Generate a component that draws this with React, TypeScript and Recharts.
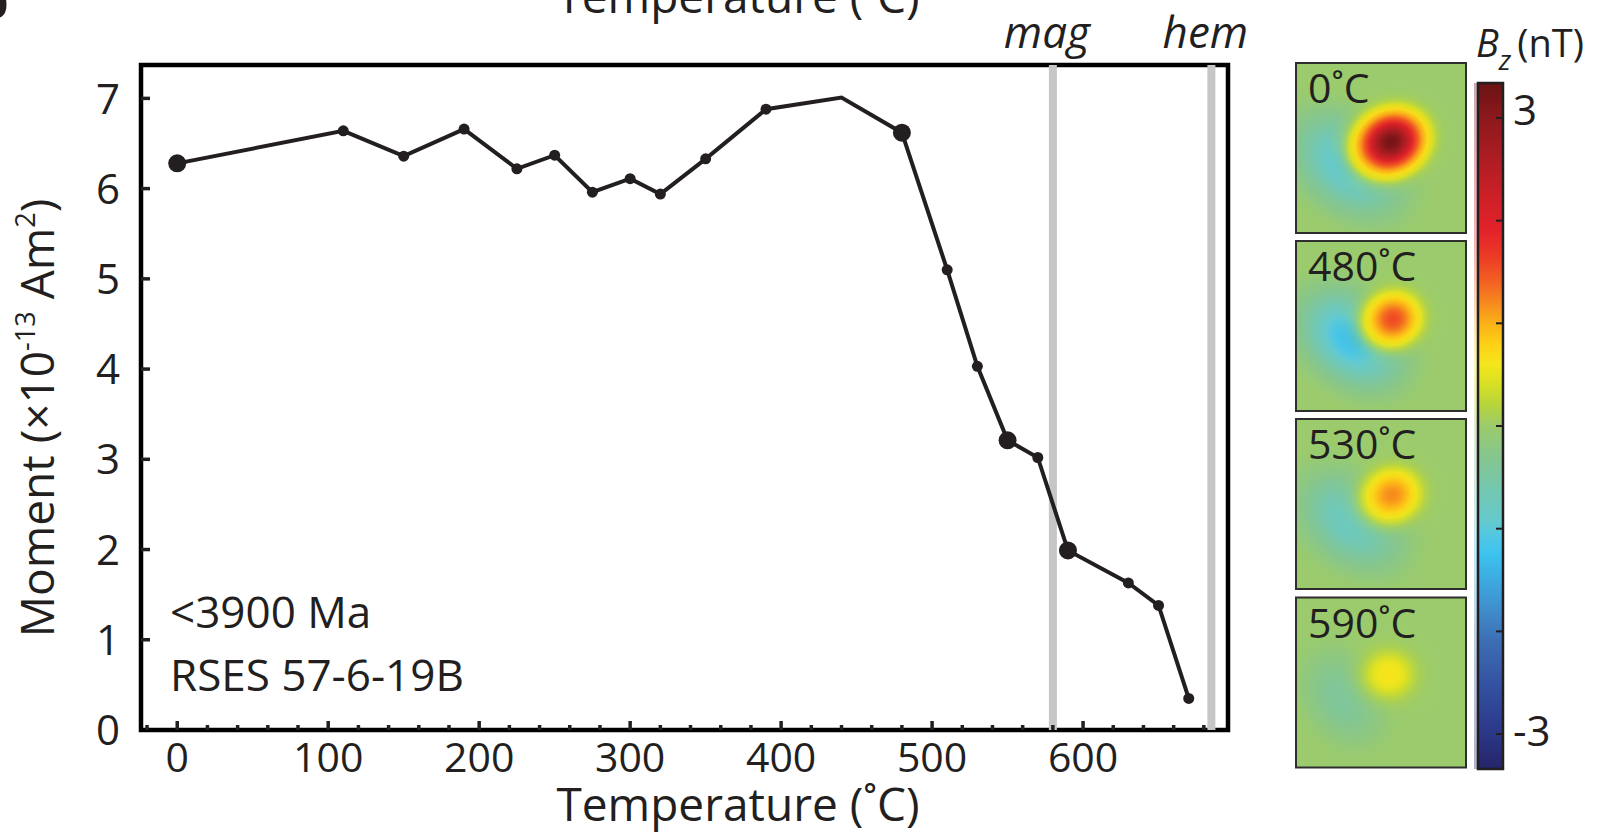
import React from 'react';
import { LineChart, Line, XAxis, YAxis, ReferenceLine, ReferenceArea } from 'recharts';

// ---------- data ----------
const temperatures = [0, 110, 150, 190, 225, 250, 275, 300, 320, 350, 390, 440, 480, 510, 530, 550, 570, 590, 630, 650, 670];
const moments = [6.28, 6.64, 6.36, 6.66, 6.22, 6.37, 5.96, 6.11, 5.94, 6.33, 6.88, 7.01, 6.62, 5.1, 4.03, 3.21, 3.02, 1.99, 1.63, 1.38, 0.35];
const imagedSteps = [0, 480, 550, 590];
const unmarkedSteps = [440];
const xTicks = [-20, 0, 20, 40, 60, 80, 100, 120, 140, 160, 180, 200, 220, 240, 260, 280, 300, 320, 340, 360, 380, 400, 420, 440, 460, 480, 500, 520, 540, 560, 580, 600, 620, 640, 660, 680];
const xLabelTicks = [0, 100, 200, 300, 400, 500, 600];
const yTicks = [0, 1, 2, 3, 4, 5, 6, 7];
const curieLines = [
  { t: 580, name: 'mag' },
  { t: 685, name: 'hem' },
];
const mapLabels = ['0˚C', '480˚C', '530˚C', '590˚C'];
const colorbarTicks = [3, 2, 1, 0, -1, -2, -3];
const colorbarLabelValues = [3, -3];
const xDomain: [number, number] = [-24, 696];
const yDomain: [number, number] = [0, 7.37];

const data = temperatures.map((t, i) => ({ t, m: moments[i] }));

// ---------- style ----------
const FONT = '"Open Sans", sans-serif';
const INK = '#231f20';
const W = 1601;
const H = 834;
const PL = 141;
const PT = 65;
const PR = 1228;
const PB = 730;

// colormap (value -> colour), descending
const cmapStops: [number, string][] = [
  [3.34, '#6b1214'], [3.0, '#8c191c'], [2.6, '#ad1d23'], [2.2, '#cf2027'], [1.9, '#e3222a'],
  [1.65, '#ec3b25'], [1.4, '#f26122'], [1.2, '#f6891e'], [1.0, '#fbb018'], [0.8, '#fdd016'],
  [0.6, '#f5e61c'], [0.4, '#d6df25'], [0.2, '#b6d43c'], [0, '#9bcb6c'], [-0.3, '#86c68e'],
  [-0.6, '#74c7ae'], [-0.9, '#66cacb'], [-1.1, '#4fc6e6'], [-1.25, '#3cc3ef'], [-1.5, '#3daae0'],
  [-1.8, '#3f8ccb'], [-2.1, '#3d6eb4'], [-2.5, '#3453a2'], [-2.9, '#2d3c8e'], [-3.34, '#25246a'],
];
const CB_MAX = 3.34;
const CB_MIN = -3.34;

function hexToRgb(h: string) {
  return [parseInt(h.slice(1, 3), 16), parseInt(h.slice(3, 5), 16), parseInt(h.slice(5, 7), 16)];
}
function cmap(v: number) {
  const vv = Math.max(CB_MIN, Math.min(CB_MAX, v));
  for (let i = 0; i < cmapStops.length - 1; i++) {
    const [a, ca] = cmapStops[i];
    const [b, cb] = cmapStops[i + 1];
    if (vv <= a && vv >= b) {
      const f = (a - vv) / (a - b);
      const A = hexToRgb(ca);
      const B = hexToRgb(cb);
      const c = A.map((x, k) => Math.round(x + (B[k] - x) * f));
      return `rgb(${c[0]},${c[1]},${c[2]})`;
    }
  }
  return cmapStops[cmapStops.length - 1][1];
}

// map panel look (image-like decoration)
const panelX = 1296;
const panelTops = [63, 241, 419, 597.5];
const panelSize = 170;
const mapLobes = [
  [
    { cx: 52, cy: 102, rx: 95, ry: 66, rot: 40, peak: -1.05, fall: 3.2 },
    { cx: 95, cy: 79, rx: 64, ry: 55, rot: -25, peak: 3.25, fall: 4.5 },
  ],
  [
    { cx: 56, cy: 98, rx: 88, ry: 64, rot: 40, peak: -1.3, fall: 3.2 },
    { cx: 97, cy: 78, rx: 56, ry: 52, rot: -20, peak: 1.55, fall: 4.5 },
  ],
  [
    { cx: 56, cy: 102, rx: 92, ry: 66, rot: 40, peak: -0.85, fall: 3.2 },
    { cx: 96, cy: 76, rx: 60, ry: 54, rot: -20, peak: 1.2, fall: 4.5 },
  ],
  [
    { cx: 48, cy: 100, rx: 84, ry: 62, rot: 60, peak: -0.45, fall: 3.2 },
    { cx: 93, cy: 77, rx: 62, ry: 58, rot: 0, peak: 0.64, fall: 4.5 },
  ],
];

const cbX = 1478;
const cbTop = 83;
const cbBottom = 769;
const cbW = 25;
const cbY = (v: number) => cbTop + ((CB_MAX - v) / (CB_MAX - CB_MIN)) * (cbBottom - cbTop);

// ---------- axis ticks ----------
const XTick = (props: any) => {
  const { x, payload } = props;
  const v = payload.value;
  const major = xLabelTicks.includes(v);
  return (
    <g>
      <line x1={x} x2={x} y1={PB} y2={PB - (major ? 9 : 5)} stroke={INK} strokeWidth={3.5} />
      {major && (
        <text x={x} y={PB + 42} textAnchor="middle" fontSize={41} fill={INK} fontFamily={FONT}>
          {v}
        </text>
      )}
    </g>
  );
};

const YTick = (props: any) => {
  const { y, payload } = props;
  const v = payload.value;
  return (
    <g>
      {v !== 0 && <line x1={PL} x2={PL + 9} y1={y} y2={y} stroke={INK} strokeWidth={3.5} />}
      <text x={PL - 21} y={y} dy="0.36em" textAnchor="end" fontSize={42} fill={INK} fontFamily={FONT}>
        {v}
      </text>
    </g>
  );
};

const renderDot = (props: any) => {
  const { cx, cy, payload, index } = props;
  if (unmarkedSteps.includes(payload.t)) return <g key={`d${index}`} />;
  const big = imagedSteps.includes(payload.t);
  return <circle key={`d${index}`} cx={cx} cy={cy} r={big ? 9 : 5.5} fill={INK} stroke="none" />;
};

const curieLabel = (name: string) => (props: any) => {
  const vb = props.viewBox || {};
  return (
    <text
      x={vb.x - 6}
      y={vb.y - 17}
      textAnchor="middle"
      fontSize={44}
      fontStyle="italic"
      fill={INK}
      fontFamily={FONT}
    >
      {name}
    </text>
  );
};

export default function App() {
  return (
    <div
      style={{
        position: 'absolute',
        left: 0,
        top: 0,
        width: W,
        height: H,
        background: '#fff',
        overflow: 'hidden',
      }}
    >
      <div style={{ position: 'absolute', left: 0, top: 0 }}>
        <LineChart
          width={W}
          height={H}
          data={data}
          margin={{ top: PT, right: W - PR, bottom: H - PB - 1, left: PL - 1 }}
        >
          <XAxis
            dataKey="t"
            type="number"
            domain={xDomain}
            allowDataOverflow
            ticks={xTicks}
            interval={0}
            height={1}
            tickSize={0}
            tickMargin={0}
            axisLine={false}
            tickLine={false}
            tick={XTick}
          />
          <YAxis
            type="number"
            domain={yDomain}
            allowDataOverflow
            ticks={yTicks}
            interval={0}
            width={1}
            tickSize={0}
            tickMargin={0}
            axisLine={false}
            tickLine={false}
            tick={YTick}
          />
          {curieLines.map((c) => (
            <ReferenceLine
              key={c.name}
              x={c.t}
              stroke="#c6c6c6"
              strokeWidth={8}
              label={curieLabel(c.name)}
            />
          ))}
          <Line
            type="linear"
            dataKey="m"
            stroke={INK}
            strokeWidth={4}
            dot={renderDot}
            activeDot={false}
            isAnimationActive={false}
          />
          <ReferenceArea
            x1={xDomain[0]}
            x2={xDomain[1]}
            y1={yDomain[0]}
            y2={yDomain[1]}
            fill="none"
            fillOpacity={0}
            stroke="#000"
            strokeWidth={4.5}
          />
        </LineChart>
      </div>

      <svg
        width={W}
        height={H}
        style={{ position: 'absolute', left: 0, top: 0, pointerEvents: 'none' }}
      >
        <defs>
          <linearGradient id="cbGrad" x1="0" y1="0" x2="0" y2="1">
            {cmapStops.map(([v, c], i) => (
              <stop key={i} offset={(CB_MAX - v) / (CB_MAX - CB_MIN)} stopColor={c} />
            ))}
          </linearGradient>
          {mapLobes.map((lobes, pi) =>
            lobes.map((lb, li) => (
              <radialGradient key={`g${pi}-${li}`} id={`lobe${pi}-${li}`} cx="0.5" cy="0.5" r="0.5">
                {Array.from({ length: 13 }, (_, k) => {
                  const s = k / 12;
                  const v = lb.peak * Math.exp(-lb.fall * s * s);
                  const thr = lb.peak > 0 ? 0.45 : 0.15;
                  const op = Math.max(0, Math.min(1, Math.abs(v) / thr));
                  return <stop key={k} offset={s} stopColor={cmap(v)} stopOpacity={op} />;
                })}
              </radialGradient>
            ))
          )}
          {panelTops.map((top, pi) => (
            <clipPath key={`c${pi}`} id={`clip${pi}`}>
              <rect x={panelX} y={top} width={panelSize} height={panelSize} />
            </clipPath>
          ))}
        </defs>

        {/* cut-off panel letter and title of the panel above */}
        <text x={-22} y={18} fontSize={50} fontWeight="bold" fill={INK} fontFamily='"Liberation Sans", sans-serif'>
          b
        </text>
        <text x={738} y={13} textAnchor="middle" fontSize={46} fill={INK} fontFamily={FONT}>
          Temperature (˚C)
        </text>

        {/* axis titles */}
        <text x={738} y={821} textAnchor="middle" fontSize={46} fill={INK} fontFamily={FONT}>
          Temperature (˚C)
        </text>
        <text
          x={54}
          y={418}
          transform="rotate(-90 54 418)"
          textAnchor="middle"
          fontSize={46}
          fill={INK}
          fontFamily={FONT}
        >
          Moment (×10
          <tspan fontSize={27} dy={-19}>-13</tspan>
          <tspan dy={19}> Am</tspan>
          <tspan fontSize={27} dy={-19}>2</tspan>
          <tspan dy={19}>)</tspan>
        </text>

        {/* sample annotation */}
        <text x={170} y={628} fontSize={44} fill={INK} fontFamily={FONT}>
          {'<3900 Ma'}
        </text>
        <text x={170} y={691} fontSize={44} fill={INK} fontFamily={FONT}>
          RSES 57-6-19B
        </text>

        {/* map panels */}
        {panelTops.map((top, pi) => (
          <g key={`p${pi}`}>
            <g clipPath={`url(#clip${pi})`}>
              <rect x={panelX} y={top} width={panelSize} height={panelSize} fill={cmap(0)} />
              {mapLobes[pi].map((lb, li) => (
                <ellipse
                  key={li}
                  cx={panelX + lb.cx}
                  cy={top + lb.cy}
                  rx={lb.rx}
                  ry={lb.ry}
                  transform={`rotate(${lb.rot} ${panelX + lb.cx} ${top + lb.cy})`}
                  fill={`url(#lobe${pi}-${li})`}
                />
              ))}
            </g>
            <rect
              x={panelX}
              y={top}
              width={panelSize}
              height={panelSize}
              fill="none"
              stroke="#2e2e2e"
              strokeWidth={2}
            />
            <text x={panelX + 12} y={top + 40} fontSize={41} fill={INK} fontFamily={FONT}>
              {mapLabels[pi]}
            </text>
          </g>
        ))}

        {/* colour bar */}
        <rect x={cbX - 4} y={cbTop} width={4} height={cbBottom - cbTop} fill="url(#cbGrad)" opacity={0.35} />
        <rect
          x={cbX}
          y={cbTop}
          width={cbW}
          height={cbBottom - cbTop}
          fill="url(#cbGrad)"
          stroke={INK}
          strokeWidth={2.5}
        />
        {colorbarTicks.map((v) => (
          <line
            key={v}
            x1={cbX + cbW}
            x2={cbX + cbW - 7}
            y1={cbY(v)}
            y2={cbY(v)}
            stroke={INK}
            strokeWidth={2}
          />
        ))}
        {colorbarLabelValues.map((v) => (
          <text
            key={`l${v}`}
            x={cbX + cbW + 10}
            y={cbY(v) + (v > 0 ? 7 : 12)}
            fontSize={42}
            fill={INK}
            fontFamily={FONT}
          >
            {v}
          </text>
        ))}
        <text x={1476} y={57} fontSize={38} fill={INK} fontFamily={FONT}>
          <tspan fontStyle="italic">B</tspan>
          <tspan fontStyle="italic" fontSize={28} dy={13}>z</tspan>
          <tspan dy={-13} dx={6}>(nT)</tspan>
        </text>
      </svg>
    </div>
  );
}
